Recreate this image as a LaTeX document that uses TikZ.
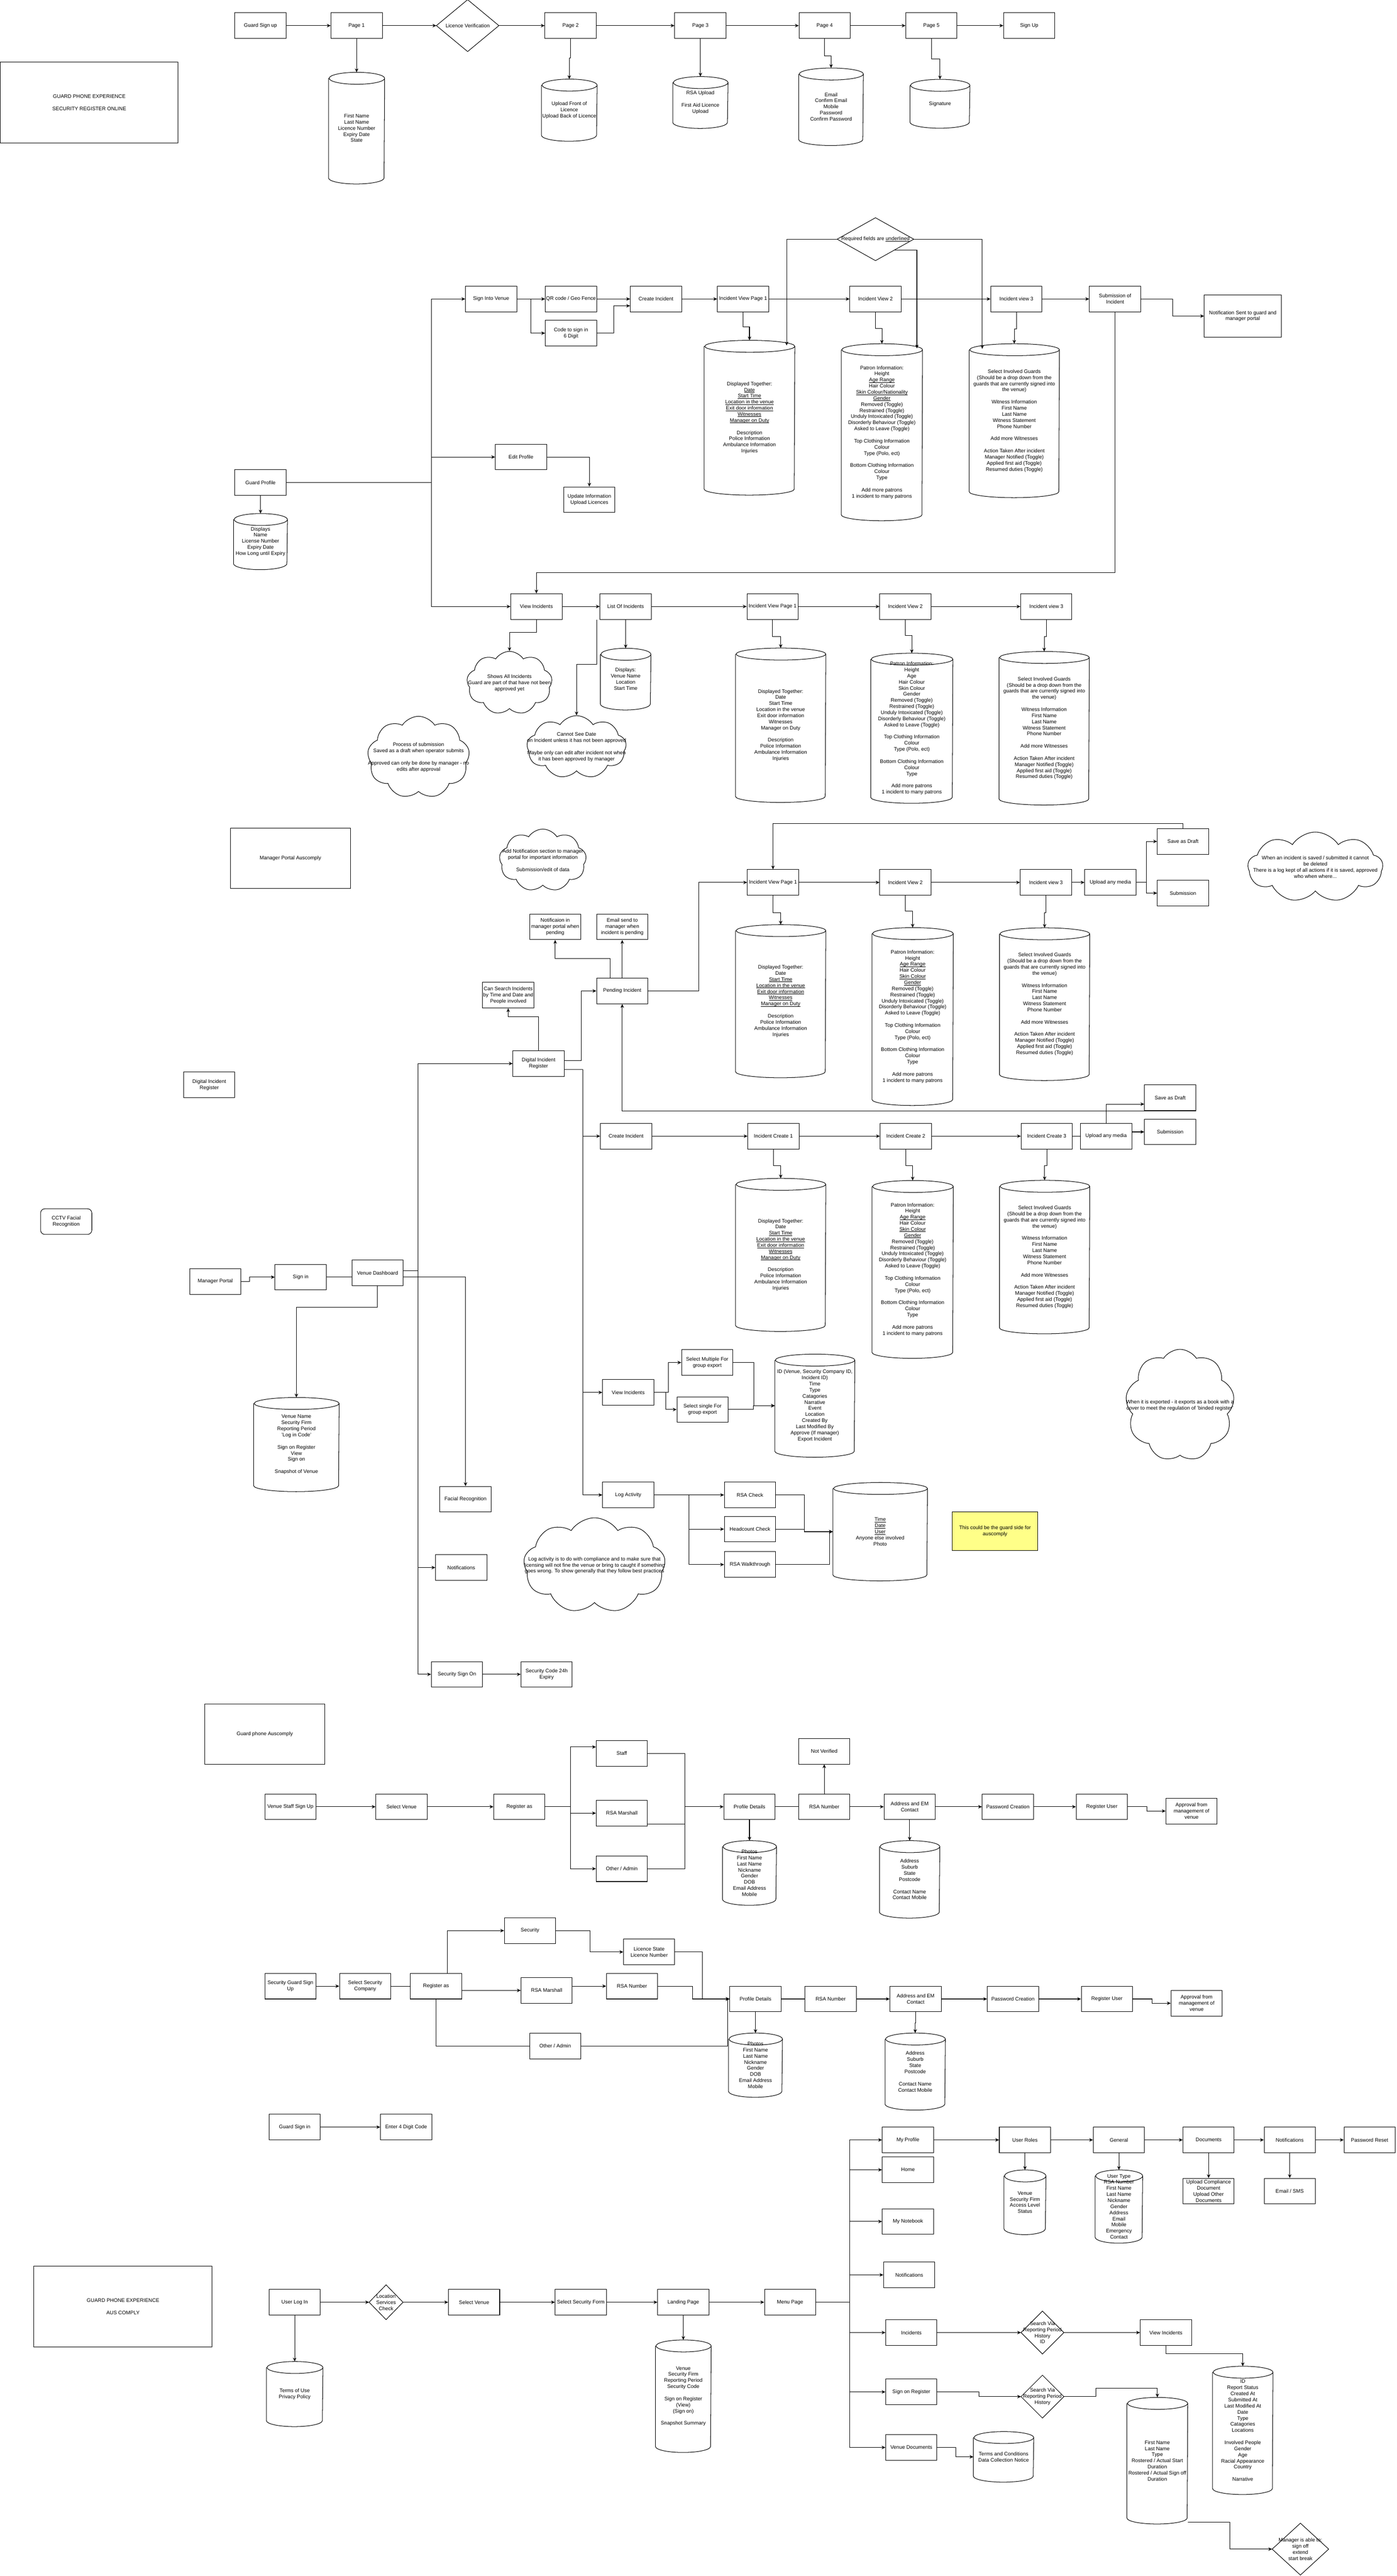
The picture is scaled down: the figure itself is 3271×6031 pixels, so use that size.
\documentclass[tikz,border=0pt]{standalone}
\usepackage{fontspec}
\setmainfont{Liberation Sans}
\usetikzlibrary{arrows.meta,shapes.geometric,shapes.symbols,calc}
\definecolor{noteyellow}{HTML}{FFFF88}
\newcommand{\skipln}{\\[4.07pt]}
\newcommand{\uln}[1]{\begingroup\setbox0\hbox{#1}\rlap{\rule[-0.6pt]{\wd0}{0.25pt}}\box0\endgroup}
\newcommand{\dbcyl}[6]{%
  \node[dbbody, minimum width=#4*0.1mm, minimum height=#5*0.1mm] (#1) at (#2,#3) {#6};
  \draw[line width=0.35pt] ([yshift=-1.4mm]#1.north west) -- ([yshift=1.4mm]#1.south west)
    arc[start angle=180, end angle=360, x radius=#4*0.05mm, y radius=1.4mm]
    -- ([yshift=-1.4mm]#1.north east)
    arc[start angle=0, end angle=360, x radius=#4*0.05mm, y radius=1.4mm];
}
\newcommand{\diaout}[1]{\draw[line width=0.35pt] (#1.north) -- (#1.east) -- (#1.south) -- (#1.west) -- cycle;}
\tikzset{
  every node/.style={font=\fontsize{3.41pt}{4.07pt}\selectfont, align=center, inner sep=0.5pt},
  box/.style={draw, line width=0.35pt, minimum width=12mm, minimum height=6mm},
  dbbody/.style={inner sep=0pt},
  dia/.style={inner sep=0pt},
  cloudnote/.style={cloud, draw, line width=0.35pt, cloud puffs=9, cloud puff arc=115, cloud ignores aspect, inner sep=0pt},
  flow/.style={-{Stealth[length=0.9mm,width=0.8mm]}, line width=0.35pt},
  link/.style={line width=0.35pt}
}
\begin{document}
\begin{tikzpicture}[x=0.1mm,y=-0.1mm]
\path[use as bounding box, fill=white] (0,0) rectangle (3271,6031);

\node[box, minimum width=41.6mm, minimum height=19mm] (title1) at (209,240) {GUARD PHONE EXPERIENCE\skipln SECURITY REGISTER ONLINE};
\node[box] (gsu) at (610,60) {Guard Sign up};
\node[box] (pg1) at (835,60) {Page 1};
\node[dia, minimum width=14.5mm, minimum height=12mm] (lic) at (1095,60) {Licence Verification};
\diaout{lic}
\node[box] (pg2) at (1336,60) {Page 2};
\node[box] (pg3) at (1640,60) {Page 3};
\node[box] (pg4) at (1931,60) {Page 4};
\node[box] (pg5) at (2181,60) {Page 5};
\node[box] (signup) at (2410,60) {Sign Up};
\dbcyl{pg1db}{835}{300}{130}{260}{First Name\\Last Name\\Licence Number\\Expiry Date\\State}
\dbcyl{pg2db}{1333}{258}{129}{144}{Upload Front of\\Licence\\Upload Back of Licence}
\dbcyl{pg3db}{1640}{240}{128}{120}{RSA Upload\skipln First Aid Licence\\Upload}
\dbcyl{pg4db}{1946}{250}{150}{180}{Email\\Confirm Email\\Mobile\\Password\\Confirm Password}
\dbcyl{pg5db}{2201}{243}{139}{113}{Signature}
\draw[flow] (gsu) -- (pg1);
\draw[flow] (pg1) -- (lic);
\draw[flow] (lic) -- (pg2);
\draw[flow] (pg2) -- (pg3);
\draw[flow] (pg3) -- (pg4);
\draw[flow] (pg4) -- (pg5);
\draw[flow] (pg5) -- (signup);
\draw[flow] (pg1) -- (pg1db);
\draw[flow] (pg2.south) -- ++(0,45) -| (pg2db.north);
\draw[flow] (pg3) -- (pg3db);
\draw[flow] (pg4.south) -- ++(0,40) -| (pg4db.north);
\draw[flow] (pg5.south) -- ++(0,48) -| (pg5db.north);

\node[dia, minimum width=17.8mm, minimum height=9.9mm] (req) at (2050,560) {Required fields are \uln{underlined}};
\diaout{req}
\node[box] (siv) at (1150,700) {Sign Into Venue};
\node[box] (qr) at (1337,700) {QR code / Geo Fence};
\node[box] (cinc) at (1536,700) {Create Incident};
\node[box] (ivp1) at (1740,700) {Incident View Page 1};
\node[box] (iv2) at (2050,700) {Incident View 2};
\node[box] (iv3) at (2380,700) {Incident view 3};
\node[box] (subm) at (2611,700) {Submission of\\Incident};
\node[box, minimum width=18mm, minimum height=10mm] (notif) at (2910,740) {Notification Sent to guard and\\manager portal};
\node[box] (code) at (1337,780) {Code to sign in\\6 Digit};
\node[box] (gprof) at (610,1130) {Guard Profile};
\dbcyl{gprofdb}{610}{1268}{125}{130}{Displays\\Name\\License Number\\Expiry Date\\How Long until Expiry}
\node[box] (edit) at (1220,1070) {Edit Profile};
\node[box] (upd) at (1380,1170) {Update Information\\Upload Licences};
\dbcyl{dbA}{1755}{978}{211}{361}{Displayed Together:\\\uln{Date}\\\uln{Start Time}\\\uln{Location in the venue}\\\uln{Exit door information}\\\uln{Witnesses}\\\uln{Manager on Duty}\skipln Description\\Police Information\\Ambulance Information\\Injuries}
\dbcyl{dbB}{2065}{1012}{189}{413}{Patron Information:\\Height\\\uln{Age Range}\\Hair Colour\\\uln{Skin Colour/Nationality}\\\uln{Gender}\\Removed (Toggle)\\Restrained (Toggle)\\Unduly Intoxicated (Toggle)\\Disorderly Behaviour (Toggle)\\Asked to Leave (Toggle)\skipln Top Clothing Information\\Colour\\Type (Polo, ect)\skipln Bottom Clothing Information\\Colour\\Type\skipln Add more patrons\\1 incident to many patrons}
\dbcyl{dbC}{2375}{985}{210}{359}{Select Involved Guards\\(Should be a drop down from the\\guards that are currently signed into\\the venue)\skipln Witness Information\\First Name\\Last Name\\Witness Statement\\Phone Number\skipln Add more Witnesses\skipln Action Taken After incident\\Manager Notified (Toggle)\\Applied first aid (Toggle)\\Resumed duties (Toggle)}
\coordinate (gtrunk) at (1010,1130);
\draw[flow] (gprof.east) -- (gtrunk) |- (siv.west);
\draw[flow] (gtrunk) |- (edit.west);
\draw[flow] (gprof) -- (gprofdb);
\draw[flow] (edit.east) -| (upd.north);
\draw[flow] (siv) -- (qr);
\draw[flow] (siv.east) -- ++(32,0) |- (code.west);
\draw[flow] (qr) -- (cinc);
\draw[flow] (code.east) -- ++(40,0) |- ([yshift=-1.6mm]cinc.west);
\draw[flow] (cinc) -- (ivp1);
\draw[flow] (ivp1) -- (iv2);
\draw[flow] (iv2) -- (iv3);
\draw[flow] (iv3) -- (subm);
\draw[flow] (subm.east) -- ++(74,0) |- (notif.west);
\draw[flow] (ivp1.south) -- ++(0,35) -| (dbA.north);
\draw[flow] (iv2.south) -- ++(0,38) -| (dbB.north);
\draw[flow] (iv3.south) -- ++(0,40) -| (dbC.north);
\draw[flow] (req.west) -| ([xshift=8.7mm,yshift=-1.2mm]dbA.north);
\draw[flow] (req.east) -| ([xshift=-7.5mm,yshift=-1.2mm]dbC.north);
\draw[flow] ($(req.east)!0.5!(req.south)$) -| ([xshift=8.2mm,yshift=-1.1mm]dbB.north);

\node[box] (vinc) at (1256,1420) {View Incidents};
\node[box] (list) at (1465,1420) {List Of Incidents};
\node[box] (ivp1b) at (1809,1420) {Incident View Page 1};
\node[box] (iv2b) at (2120,1420) {Incident View 2};
\node[box] (iv3b) at (2450,1420) {Incident view 3};
\draw[flow] (gtrunk) |- (vinc.west);
\draw[flow] (subm.south) -- ++(0,610) -| (vinc.north);
\draw[flow] (vinc) -- (list);
\draw[flow] (list) -- (ivp1b);
\draw[flow] (ivp1b) -- (iv2b);
\draw[flow] (iv2b) -- (iv3b);
\node[cloudnote, minimum width=20mm, minimum height=14.8mm] (cl1) at (1193,1599) {};
\node at (cl1) {Shows All Incidents\\Guard are part of that have not been\\approved yet};
\node[cloudnote, minimum width=23.9mm, minimum height=19.2mm] (cl2) at (980,1773) {};
\node at (cl2) {Process of submission\\Saved as a draft when operator submits\skipln Approved can only be done by manager - no\\edits after approval};
\node[cloudnote, minimum width=23.3mm, minimum height=14.7mm] (cl3) at (1350,1749) {};
\node at (cl3) {Cannot See Date\\on Incident unless it has not been approved\skipln Maybe only can edit after incident not when\\it has been approved by manager};
\dbcyl{listdb}{1465}{1590}{117}{143}{Displays:\\Venue Name\\Location\\Start Time}
\dbcyl{dbA2}{1828}{1698}{210}{360}{Displayed Together:\\Date\\Start Time\\Location in the venue\\Exit door information\\Witnesses\\Manager on Duty\skipln Description\\Police Information\\Ambulance Information\\Injuries}
\dbcyl{dbB2}{2135}{1705}{191}{350}{Patron Information:\\Height\\Age\\Hair Colour\\Skin Colour\\Gender\\Removed (Toggle)\\Restrained (Toggle)\\Unduly Intoxicated (Toggle)\\Disorderly Behaviour (Toggle)\\Asked to Leave (Toggle)\skipln Top Clothing Information\\Colour\\Type (Polo, ect)\skipln Bottom Clothing Information\\Colour\\Type\skipln Add more patrons\\1 incident to many patrons}
\dbcyl{dbC2}{2445}{1705}{210}{358}{Select Involved Guards\\(Should be a drop down from the\\guards that are currently signed into\\the venue)\skipln Witness Information\\First Name\\Last Name\\Witness Statement\\Phone Number\skipln Add more Witnesses\skipln Action Taken After incident\\Manager Notified (Toggle)\\Applied first aid (Toggle)\\Resumed duties (Toggle)}
\draw[flow] (vinc.south) -- ++(0,30) -| (cl1.north);
\draw[flow] (list) -- (listdb);
\draw[flow] ([xshift=-6.8mm]list.south) -- ++(0,105) -| (cl3.north);
\draw[flow] (ivp1b.south) -- ++(0,40) -| (dbA2.north);
\draw[flow] (iv2b.south) -- ++(0,37) -| (dbB2.north);
\draw[flow] (iv3b.south) -- ++(0,40) -| (dbC2.north);

\node[box, minimum width=28.1mm, minimum height=14.1mm] (mpa) at (680,2010) {Manager Portal Auscomply};
\node[cloudnote, minimum width=20.4mm, minimum height=14.6mm] (cl4) at (1271,2014) {};
\node at (cl4) {Add Notification section to manager\\portal for important information\skipln Submission/edit of data};
\node[box] (ivp1c) at (1810,2066) {Incident View Page 1};
\node[box] (iv2c) at (2120,2066) {Incident View 2};
\node[box] (iv3c) at (2449,2066) {Incident view 3};
\node[box] (media1) at (2600,2066) {Upload any media};
\node[box] (draft1) at (2770,1970) {Save as Draft};
\node[box] (sub1) at (2770,2091) {Submission};
\node[cloudnote, minimum width=31.6mm, minimum height=16.4mm] (cl5) at (3080,2030) {};
\node at (cl5) {When an incident is saved / submitted it cannot\\be deleted\\There is a log kept of all actions if it is saved, approved\\who when where...};
\dbcyl{dbA3}{1828}{2344}{210}{357}{Displayed Together:\\Date\\\uln{Start Time}\\\uln{Location in the venue}\\\uln{Exit door information}\\\uln{Witnesses}\\\uln{Manager on Duty}\skipln Description\\Police Information\\Ambulance Information\\Injuries}
\dbcyl{dbB3}{2137}{2380}{189}{415}{Patron Information:\\Height\\\uln{Age Range}\\Hair Colour\\\uln{Skin Colour}\\\uln{Gender}\\Removed (Toggle)\\Restrained (Toggle)\\Unduly Intoxicated (Toggle)\\Disorderly Behaviour (Toggle)\\Asked to Leave (Toggle)\skipln Top Clothing Information\\Colour\\Type (Polo, ect)\skipln Bottom Clothing Information\\Colour\\Type\skipln Add more patrons\\1 incident to many patrons}
\dbcyl{dbC3}{2446}{2351}{210}{356}{Select Involved Guards\\(Should be a drop down from the\\guards that are currently signed into\\the venue)\skipln Witness Information\\First Name\\Last Name\\Witness Statement\\Phone Number\skipln Add more Witnesses\skipln Action Taken After incident\\Manager Notified (Toggle)\\Applied first aid (Toggle)\\Resumed duties (Toggle)}
\draw[flow] (ivp1c) -- (iv2c);
\draw[flow] (iv2c) -- (iv3c);
\draw[flow] (iv3c) -- (media1);
\draw[flow] (media1.east) -- ++(24,0) |- (draft1.west);
\draw[flow] (media1.east) -- ++(24,0) |- (sub1.west);
\draw[flow] (draft1.north) -- ++(0,-11) -| (ivp1c.north);
\draw[flow] (ivp1c.south) -- ++(0,40) -| (dbA3.north);
\draw[flow] (iv2c.south) -- ++(0,37) -| (dbB3.north);
\draw[flow] (iv3c.south) -- ++(0,40) -| (dbC3.north);

\node[box] (npend) at (1300,2170) {Notificaion in\\manager portal when\\pending};
\node[box] (epend) at (1457,2170) {Email send to\\manager when\\incident is pending};
\node[box] (pend) at (1457,2320) {Pending Incident};
\node[box] (search) at (1190,2330) {Can Search Incidents\\by Time and Date and\\People involved};
\node[box] (dir) at (1261,2490) {Digital Incident\\Register};
\node[box] (dir0) at (490,2540) {Digital Incident\\Register};
\draw[flow] ([xshift=-2.8mm]pend.north) -- ++(0,-45) -| (npend.south);
\draw[flow] (pend.north) -- (epend.south);
\draw[flow] (pend.east) -- ++(118,0) |- (ivp1c.west);
\draw[flow] (dir.north) -- ++(0,-79) -| (search.south);
\draw[flow] ([yshift=0.7mm]dir.east) -- ++(40,0) |- (pend.west);

\node[box] (cinc2) at (1466,2660) {Create Incident};
\node[box] (icr1) at (1811,2660) {Incident Create 1};
\node[box] (icr2) at (2121,2660) {Incident Create 2};
\node[box] (icr3) at (2451,2660) {Incident Create 3};
\node[box] (media2) at (2590,2660) {Upload any media};
\node[box] (draft2) at (2740,2570) {Save as Draft};
\node[box] (sub2) at (2740,2650) {Submission};
\dbcyl{dbA4}{1828}{2938}{210}{357}{Displayed Together:\\Date\\\uln{Start Time}\\\uln{Location in the venue}\\\uln{Exit door information}\\\uln{Witnesses}\\\uln{Manager on Duty}\skipln Description\\Police Information\\Ambulance Information\\Injuries}
\dbcyl{dbB4}{2137}{2972}{189}{415}{Patron Information:\\Height\\\uln{Age Range}\\Hair Colour\\\uln{Skin Colour}\\\uln{Gender}\\Removed (Toggle)\\Restrained (Toggle)\\Unduly Intoxicated (Toggle)\\Disorderly Behaviour (Toggle)\\Asked to Leave (Toggle)\skipln Top Clothing Information\\Colour\\Type (Polo, ect)\skipln Bottom Clothing Information\\Colour\\Type\skipln Add more patrons\\1 incident to many patrons}
\dbcyl{dbC4}{2446}{2943}{210}{358}{Select Involved Guards\\(Should be a drop down from the\\guards that are currently signed into\\the venue)\skipln Witness Information\\First Name\\Last Name\\Witness Statement\\Phone Number\skipln Add more Witnesses\skipln Action Taken After incident\\Manager Notified (Toggle)\\Applied first aid (Toggle)\\Resumed duties (Toggle)}
\coordinate (dtrunk) at (1365,2504);
\draw[link] ([yshift=-1.4mm]dir.east) -- (dtrunk);
\draw[flow] (dtrunk) |- (cinc2.west);
\draw[flow] (cinc2) -- (icr1);
\draw[flow] (icr1) -- (icr2);
\draw[flow] (icr2) -- (icr3);
\draw[link] (icr3) -- (media2);
\draw[flow] (media2.east |- sub2.west) -- (sub2.west);
\draw[flow] (media2.north) |- ([yshift=-1.5mm]draft2.west);
\draw[flow] (draft2.south east) -- (draft2.south east -| pend.south) -- (pend.south);
\draw[flow] (icr1.south) -- ++(0,38) -| (dbA4.north);
\draw[flow] (icr2.south) -- ++(0,38) -| (dbB4.north);
\draw[flow] (icr3.south) -- ++(0,38) -| (dbC4.north);
\node[cloudnote, minimum width=25.5mm, minimum height=26.2mm] (cl6) at (2763,3290) {};
\node at (cl6) {When it is exported - it exports as a book with a\\cover to meet the regulation of 'binded register'};

\node[box, rounded corners=1mm] (cctv) at (155,2860) {CCTV Facial\\Recognition};
\node[box] (mportal) at (504,3000) {Manager Portal};
\node[box] (msign) at (704,2990) {Sign in};
\node[box] (vdash) at (884,2980) {Venue Dashboard};
\dbcyl{vdashdb}{694}{3382}{199}{219}{Venue Name\\Security Firm\\Reporting Period\\'Log in Code'\skipln Sign on Register\\View\\Sign on\skipln Snapshot of Venue}
\node[box] (facial) at (1090,3510) {Facial Recognition};
\node[box] (notes) at (1080,3670) {Notifications};
\node[box] (ssign) at (1070,3920) {Security Sign On};
\node[box] (scode) at (1280,3920) {Security Code 24h\\Expiry};
\coordinate (vt) at (979,2975);
\draw[flow] (mportal.east) -- ++(20,0) |- (msign.west);
\draw[link] (msign.east) -- (vdash.west |- msign.east);
\draw[link] (vdash.east |- vt) -- (vt);
\draw[flow] (vt) |- (dir.west);
\draw[flow] (vt) |- (notes.west);
\draw[flow] (vt) |- (ssign.west);
\draw[flow] ([yshift=-1mm]vdash.east) -| (facial.north);
\draw[flow] (vdash.south) -- ++(0,50) -| (vdashdb.north);
\draw[flow] (ssign) -- (scode);

\node[box] (vinc2) at (1471,3260) {View Incidents};
\node[box] (smult) at (1656,3190) {Select Multiple For\\group export};
\node[box] (ssing) at (1645,3300) {Select single For\\group export};
\dbcyl{exportdb}{1908}{3291}{186}{240}{ID (Venue, Security Company ID,\\Incident ID)\\Time\\Type\\Catagories\\Narrative\\Event\\Location\\Created By\\Last Modified By\\Approve (If manager)\\Export Incident}
\node[box] (logact) at (1471,3500) {Log Activity};
\node[box] (rsac) at (1756,3500) {RSA Check};
\node[box] (headc) at (1756,3580) {Headcount Check};
\node[box] (rsaw) at (1756,3663) {RSA Walkthrough};
\dbcyl{logdb}{2061}{3586}{220}{229}{\uln{Time}\\\uln{Date}\\\uln{User}\\Anyone else involved\\Photo}
\node[box, fill=noteyellow, minimum width=20mm, minimum height=9mm] (gnote) at (2330,3585) {This could be the guard side for\\auscomply};
\node[cloudnote, minimum width=33.2mm, minimum height=22.3mm] (cl7) at (1392,3665) {};
\node at (cl7) {Log activity is to do with compliance and to make sure that\\licensing will not fine the venue or bring to caught if something\\goes wrong. To show generally that they follow best practices};
\draw[flow] (dtrunk) |- (vinc2.west);
\draw[flow] (dtrunk) |- (logact.west);
\draw[flow] (vinc2.east) -- ++(33,0) |- (smult.west);
\draw[flow] (vinc2.east) -- ++(27,0) |- (ssing.west);
\draw[flow] (smult.east) -- ++(49,0) |- (exportdb.west);
\draw[flow] (ssing.east) -- ++(58,0) |- (exportdb.west);
\draw[flow] (logact) -- (rsac);
\draw[flow] (logact.east) -- ++(82,0) |- (headc.west);
\draw[flow] (logact.east) -- ++(82,0) |- (rsaw.west);
\draw[flow] (rsac.east) -- ++(67,0) |- (logdb.west);
\draw[flow] (headc.east) -- ++(67,0) |- (logdb.west);
\draw[flow] (rsaw.east) -- ++(126,0) |- (logdb.west);

\node[box, minimum width=28.2mm, minimum height=14.1mm] (gpa) at (620,4060) {Guard phone Auscomply};
\node[box] (vssu) at (680,4230) {Venue Staff Sign Up};
\node[box] (vsel) at (940,4230) {Select Venue};
\node[box] (vreg) at (1216,4230) {Register as};
\node[box] (vstaff) at (1456,4105) {Staff};
\node[box] (vrsam) at (1456,4245) {RSA Marshall};
\node[box] (vadmin) at (1456,4375) {Other / Admin};
\node[box] (vprof) at (1755,4230) {Profile Details};
\node[box] (vrsan) at (1930,4230) {RSA Number};
\node[box] (vnotv) at (1930,4100) {Not Verified};
\node[box] (vaddr) at (2130,4230) {Address and EM\\Contact};
\node[box] (vpass) at (2360,4230) {Password Creation};
\node[box] (vregu) at (2580,4230) {Register User};
\node[box] (vappr) at (2790,4240) {Approval from\\management of\\venue};
\dbcyl{vprofdb}{1755}{4385}{125}{150}{Photos\\First Name\\Last Name\\Nickname\\Gender\\DOB\\Email Address\\Mobile}
\dbcyl{vaddrdb}{2130}{4400}{140}{180}{Address\\Suburb\\State\\Postcode\skipln Contact Name\\Contact Mobile}
\coordinate (vbr) at (1336,4230);
\coordinate (vjn) at (1604,4230);
\draw[flow] (vssu) -- (vsel);
\draw[flow] (vsel) -- (vreg);
\draw[link] (vreg.east) -- (vbr);
\draw[flow] (vbr) |- ([yshift=1.5mm]vstaff.west);
\draw[flow] (vbr) |- (vrsam.west);
\draw[flow] (vbr) |- (vadmin.west);
\draw[link] (vstaff.east) -| (vjn);
\draw[link] ([yshift=-2.5mm]vrsam.east) -| (vjn);
\draw[link] (vadmin.east) -| (vjn);
\draw[flow] (vjn) -- (vprof.west);
\draw[link] (vprof) -- (vrsan);
\draw[flow] (vrsan) -- (vnotv);
\draw[flow] (vrsan) -- (vaddr);
\draw[flow] (vaddr) -- (vpass);
\draw[flow] (vpass) -- (vregu);
\draw[flow] (vregu.east) -- ++(45,0) |- (vappr.west);
\draw[flow] (vprof) -- (vprofdb);
\draw[flow] (vaddr.south) -- ++(0,25) -| (vaddrdb.north);

\node[box] (sgsu) at (680,4650) {Security Guard Sign\\Up};
\node[box] (ssel) at (855,4650) {Select Security\\Company};
\node[box] (sreg) at (1021,4650) {Register as};
\node[box] (ssec) at (1241,4520) {Security};
\node[box] (slic) at (1520,4570) {Licence State\\Licence Number};
\node[box] (srsam) at (1280,4660) {RSA Marshall};
\node[box] (srsan1) at (1480,4650) {RSA Number};
\node[box] (sadmin) at (1300,4790) {Other / Admin};
\node[box] (sprof) at (1769,4680) {Profile Details};
\node[box] (srsan2) at (1945,4680) {RSA Number};
\node[box] (saddr) at (2144,4680) {Address and EM\\Contact};
\node[box] (spass) at (2372,4680) {Password Creation};
\node[box] (sregu) at (2592,4680) {Register User};
\node[box] (sappr) at (2802,4690) {Approval from\\management of\\venue};
\dbcyl{sprofdb}{1769}{4835}{125}{149}{Photos\\First Name\\Last Name\\Nickname\\Gender\\DOB\\Email Address\\Mobile}
\dbcyl{saddrdb}{2143}{4850}{140}{179}{Address\\Suburb\\State\\Postcode\skipln Contact Name\\Contact Mobile}
\draw[flow] (sgsu) -- (ssel);
\draw[link] (ssel) -- (sreg);
\draw[flow] ([xshift=2.6mm]sreg.north) |- (ssec.west);
\draw[flow] (sreg.east |- srsam.west) -- (srsam.west);
\draw[link] (sreg.south) |- (sadmin.west);
\draw[flow] (ssec.east) -- ++(80,0) |- (slic.west);
\draw[flow] (slic.east) -- ++(64,0) |- (sprof.west);
\draw[flow] (srsam.east |- srsan1.west) -- (srsan1.west);
\draw[flow] (srsan1.east) -- ++(81,0) |- (sprof.west);
\draw[flow] (sadmin.east) -- ++(343,0) |- (sprof.west);
\draw[link] (sprof) -- (srsan2);
\draw[flow] (srsan2) -- (saddr);
\draw[flow] (saddr) -- (spass);
\draw[flow] (spass) -- (sregu);
\draw[flow] (sregu.east) -- ++(45,0) |- (sappr.west);
\draw[flow] (sprof) -- (sprofdb);
\draw[flow] (saddr.south) -- ++(0,25) -| (saddrdb.north);

\node[box] (gsin) at (690,4980) {Guard Sign in};
\node[box] (gcode) at (951,4980) {Enter 4 Digit Code};
\draw[flow] (gsin) -- (gcode);

\node[box, minimum width=41.7mm, minimum height=19mm] (title2) at (288,5400) {GUARD PHONE EXPERIENCE\skipln AUS COMPLY};
\node[box] (ulog) at (690,5390) {User Log In};
\node[dia, minimum width=7.8mm, minimum height=8mm] (loc) at (904,5390) {Location\\Services\\Check};
\diaout{loc}
\node[box] (usel) at (1110,5390) {Select Venue};
\node[box] (uform) at (1360,5390) {Select Security Form};
\node[box] (land) at (1600,5390) {Landing Page};
\node[box] (menu) at (1850,5390) {Menu Page};
\dbcyl{termsdb}{690}{5605}{131}{151}{Terms of Use\\Privacy Policy}
\dbcyl{landdb}{1600}{5610}{129}{262}{Venue\\Security Firm\\Reporting Period\\Security Code\skipln Sign on Register\\(View)\\(Sign on)\skipln Snapshot Summary}
\draw[flow] (ulog) -- (loc);
\draw[flow] (loc) -- (usel);
\draw[flow] (usel) -- (uform);
\draw[flow] (uform) -- (land);
\draw[flow] (land) -- (menu);
\draw[flow] (ulog) -- (termsdb);
\draw[flow] (land) -- (landdb);

\node[box] (mprof) at (2126,5010) {My Profile};
\node[box] (mhome) at (2126,5080) {Home};
\node[box] (mnote) at (2126,5201) {My Notebook};
\node[box] (mnotif) at (2129,5326) {Notifications};
\node[box] (minc) at (2134,5461) {Incidents};
\node[box] (msreg) at (2134,5600) {Sign on Register};
\node[box] (mvdoc) at (2134,5730) {Venue Documents};
\coordinate (mt) at (1990,5390);
\draw[link] (menu.east) -- (mt);
\draw[flow] (mt) |- (mprof.west);
\draw[flow] (mt) |- (mhome.west);
\draw[flow] (mt) |- (mnote.west);
\draw[flow] (mt) |- (mnotif.west);
\draw[flow] (mt) |- (minc.west);
\draw[flow] (mt) |- (msreg.west);
\draw[flow] (mt) |- (mvdoc.west);

\node[box] (uroles) at (2400,5010) {User Roles};
\node[box] (ugen) at (2620,5010) {General};
\node[box] (udocs) at (2830,5010) {Documents};
\node[box] (unotif) at (3020,5010) {Notifications};
\node[box] (upass) at (3207,5010) {Password Reset};
\dbcyl{urolesdb}{2400}{5156}{97}{150}{Venue\\Security Firm\\Access Level\\Status}
\dbcyl{ugendb}{2620}{5166}{110}{170}{User Type\\RSA Number\\First Name\\Last Name\\Nickname\\Gender\\Address\\Email\\Mobile\\Emergency\\Contact}
\node[box] (uupl) at (2830,5130) {Upload Compliance\\Document\\Upload Other\\Documents};
\node[box] (uemail) at (3020,5130) {Email / SMS};
\draw[flow] (mprof) -- (uroles);
\draw[flow] (uroles) -- (ugen);
\draw[flow] (ugen) -- (udocs);
\draw[flow] (udocs) -- (unotif);
\draw[flow] (unotif) -- (upass);
\draw[flow] (uroles) -- (urolesdb);
\draw[flow] (ugen) -- (ugendb);
\draw[flow] (udocs) -- (uupl);
\draw[flow] (unotif) -- (uemail);

\node[dia, minimum width=9.9mm, minimum height=9.9mm] (sdia1) at (2441,5461) {Search Via\\Reporting Period\\History\\ID};
\diaout{sdia1}
\node[box] (uvinc) at (2730,5461) {View Incidents};
\dbcyl{uincdb}{2910}{5690}{140}{299}{ID\\Report Status\\Created At\\Submitted At\\Last Modified At\\Date\\Type\\Catagories\\Locations\skipln Involved People\\Gender\\Age\\Racial Appearance\\Country\skipln Narrative}
\node[dia, minimum width=9.9mm, minimum height=9.9mm] (sdia2) at (2441,5611) {Search Via\\Reporting Period\\History};
\diaout{sdia2}
\dbcyl{usigndb}{2710}{5761}{141}{295}{First Name\\Last Name\\Type\\Rostered / Actual Start\\Duration\\Rostered / Actual Sign off\\Duration}
\node[dia, minimum width=13.1mm, minimum height=12mm] (mgrdia) at (3045,5968) {Manager is able to:\\sign off\\extend\\start break};
\diaout{mgrdia}
\dbcyl{uvdocdb}{2350}{5752}{140}{117}{Terms and Conditions\\Data Collection Notice}
\draw[flow] (minc) -- (sdia1);
\draw[flow] (sdia1) -- (uvinc);
\draw[flow] (uvinc.south) -- ++(0,19) -| (uincdb.north);
\draw[flow] (msreg.east) -- ++(98,0) |- (sdia2.west);
\draw[flow] (sdia2.east) -- ++(75,0) -- ++(0,-20) -| (usigndb.north);
\draw[flow] ([yshift=0.4mm]usigndb.south east) -- ++(99,0) |- (mgrdia.west);
\draw[flow] (mvdoc.east) -- ++(44,0) |- (uvdocdb.west);
\end{tikzpicture}
\end{document}
